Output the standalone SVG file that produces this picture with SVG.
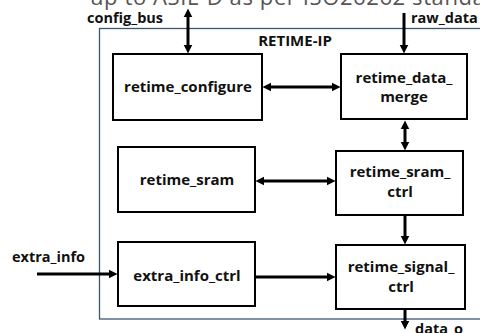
<svg xmlns="http://www.w3.org/2000/svg" width="480" height="333" viewBox="0 0 480 333">
  <style>
    .blk { fill: #ffffff; stroke: #000000; stroke-width: 2; }
    .lbl { font-family: "Open Sans", "Liberation Sans", Arial, sans-serif; font-weight: bold; font-size: 15px; fill: #111111; text-anchor: middle; }
    .port { font-family: "Open Sans", "Liberation Sans", Arial, sans-serif; font-weight: bold; font-size: 14.5px; fill: #111111; }
    .wire { stroke: #000000; stroke-width: 3; fill: none; }
    .one { marker-end: url(#head); }
    .two { marker-start: url(#head); marker-end: url(#head); }
  </style>
  <defs>
    <marker id="head" viewBox="0 0 10 10" refX="0.5" refY="5" markerWidth="9" markerHeight="10" markerUnits="userSpaceOnUse" orient="auto-start-reverse">
      <path d="M0,0 L10,5 L0,10 z" fill="#000000"/>
    </marker>
  </defs>

  <rect width="480" height="333" fill="#ffffff"/>

  <!-- heading line running off the top edge -->
  <text x="90" y="5" font-family="Open Sans, Liberation Sans, Arial, sans-serif" font-size="22" letter-spacing="0.6" fill="#555555">up to ASIL-D as per ISO26262 standard</text>

  <!-- IP boundary -->
  <g id="retime_ip">
    <rect x="99.5" y="28.5" width="400" height="290.5" fill="none" stroke="#3b5670" stroke-width="1.3"/>
    <text class="lbl" x="295" y="46">RETIME-IP</text>
  </g>

  <g id="retime_configure">
    <rect class="blk" x="113" y="54" width="149" height="66"/>
    <text class="lbl" x="188" y="92">retime_configure</text>
  </g>

  <g id="retime_data_merge">
    <rect class="blk" x="341" y="54" width="126" height="65"/>
    <text class="lbl" x="404" y="83">retime_data_</text>
    <text class="lbl" x="404" y="102">merge</text>
  </g>

  <g id="retime_sram">
    <rect class="blk" x="118" y="147" width="137" height="65"/>
    <text class="lbl" x="187" y="185">retime_sram</text>
  </g>

  <g id="retime_sram_ctrl">
    <rect class="blk" x="336" y="151" width="127" height="64"/>
    <text class="lbl" x="400" y="177">retime_sram_</text>
    <text class="lbl" x="400" y="197">ctrl</text>
  </g>

  <g id="extra_info_ctrl">
    <rect class="blk" x="118" y="242" width="137" height="64"/>
    <text class="lbl" x="187" y="281">extra_info_ctrl</text>
  </g>

  <g id="retime_signal_ctrl">
    <rect class="blk" x="336" y="245" width="129" height="64"/>
    <text class="lbl" x="401" y="272">retime_signal_</text>
    <text class="lbl" x="401" y="292">ctrl</text>
  </g>

  <!-- port names -->
  <g id="ports">
    <text class="port" x="87" y="23">config_bus</text>
    <text class="port" x="411" y="23">raw_data</text>
    <text class="port" x="12" y="262">extra_info</text>
    <text class="port" x="415" y="334">data_o</text>
  </g>

  <!-- connectors -->
  <g id="connectors">
    <line class="wire two" x1="188" y1="17" x2="188" y2="45"/>
    <line class="wire one" x1="404" y1="13" x2="404" y2="45"/>
    <line class="wire two" x1="271" y1="87" x2="332" y2="87"/>
    <line class="wire two" x1="405" y1="129" x2="405" y2="142"/>
    <line class="wire two" x1="264" y1="181" x2="327" y2="181"/>
    <line class="wire one" x1="405" y1="215" x2="405" y2="236"/>
    <line class="wire one" x1="37" y1="274" x2="109" y2="274"/>
    <line class="wire one" x1="255" y1="277" x2="327" y2="277"/>
    <line class="wire one" x1="405" y1="309" x2="405" y2="321"/>
  </g>
</svg>
